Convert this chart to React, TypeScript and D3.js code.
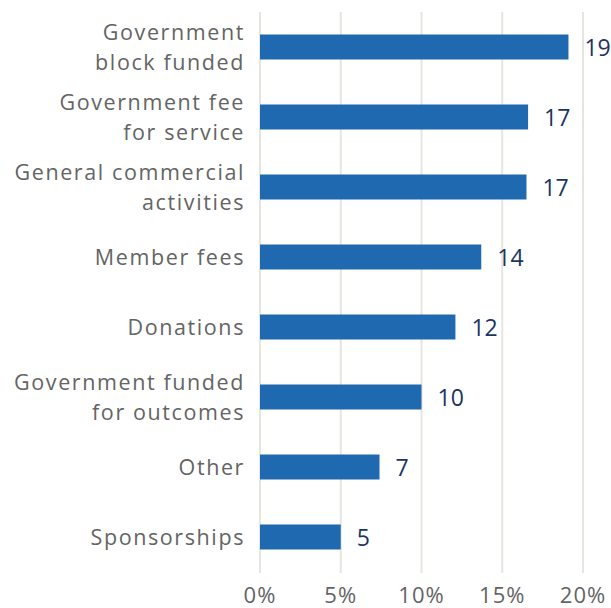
import React from "react";
import * as d3 from "d3";

const categories: string[][] = [
  ["Government", "block funded"],
  ["Government fee", "for service"],
  ["General commercial", "activities"],
  ["Member fees"],
  ["Donations"],
  ["Government funded", "for outcomes"],
  ["Other"],
  ["Sponsorships"],
];
const values = [19.1, 16.6, 16.5, 13.7, 12.1, 10.0, 7.4, 5.0];
const valueLabels = ["19", "17", "17", "14", "12", "10", "7", "5"];
const xTicks = [0, 5, 10, 15, 20];

const W = 611;
const H = 608;

export default function App() {
  const x = d3.scaleLinear().domain([0, 20]).range([260, 583]);
  const keys = categories.map((_, i) => String(i));
  const y = d3
    .scaleBand<string>()
    .domain(keys)
    .range([12, 572])
    .paddingInner(0.643)
    .paddingOuter(0.3215);
  const bw = y.bandwidth();
  const labelFont = "'Open Sans', sans-serif";
  return (
    <svg
      width={W}
      height={H}
      style={{ position: "absolute", left: 0, top: 0, background: "#fff" }}
    >
      {xTicks.map((t) => (
        <line
          key={"g" + t}
          x1={x(t)}
          x2={x(t)}
          y1={12}
          y2={573}
          stroke="#e7e5df"
          strokeWidth={2}
        />
      ))}
      {values.map((v, i) => {
        const cy = (y(String(i)) as number) + bw / 2;
        return (
          <g key={i}>
            <rect
              x={x(0)}
              y={y(String(i))}
              width={x(v) - x(0)}
              height={bw}
              fill="#1f69b0"
            />
            <text
              x={x(v) + 16}
              y={cy + 8.5}
              fontFamily="'Open Sans', sans-serif"
              fontSize={23}
              fill="#1c3461"
            >
              {valueLabels[i]}
            </text>
            {categories[i].map((line, j) => {
              const n = categories[i].length;
              const by = n === 1 ? cy + 8 : cy - 7 + j * 30;
              return (
                <text
                  key={j}
                  x={245}
                  y={by}
                  textAnchor="end"
                  fontFamily={labelFont}
                  fontSize={21.5}
                  letterSpacing={1.6}
                  fill="#646464"
                >
                  {line}
                </text>
              );
            })}
          </g>
        );
      })}
      {xTicks.map((t) => (
        <text
          key={"t" + t}
          x={x(t)}
          y={603}
          textAnchor="middle"
          fontFamily={labelFont}
          fontSize={22}
          letterSpacing={1}
          fill="#646464"
        >
          {t + "%"}
        </text>
      ))}
    </svg>
  );
}
